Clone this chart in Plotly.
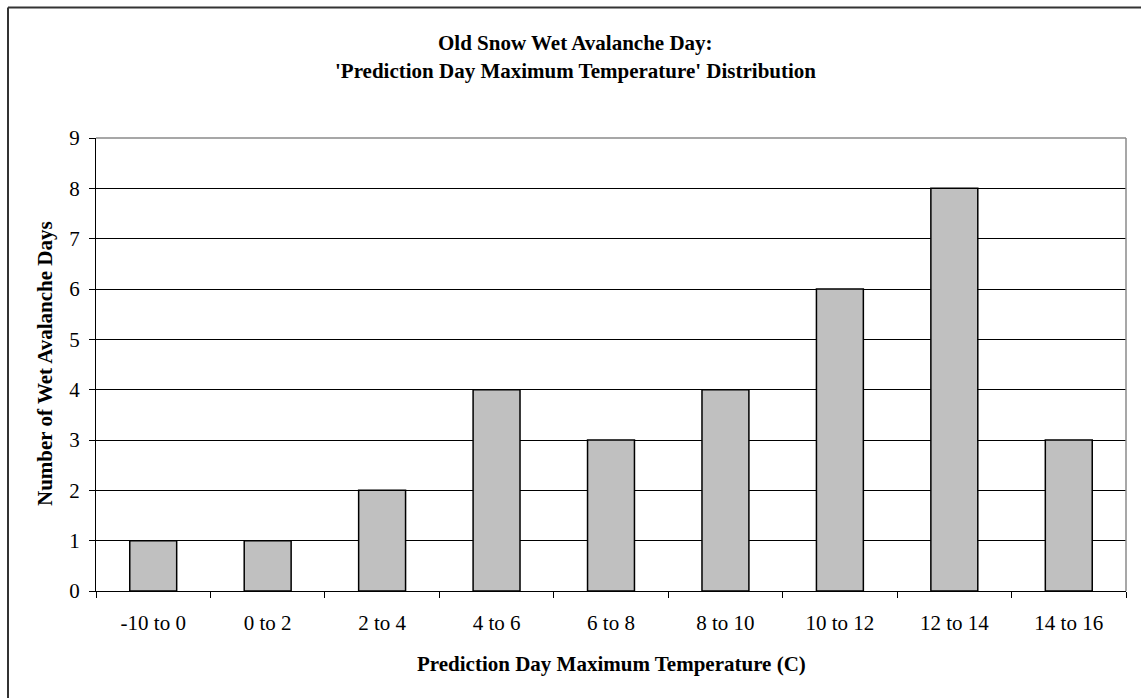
import plotly.graph_objects as go

categories = ["-10 to 0", "0 to 2", "2 to 4", "4 to 6", "6 to 8", "8 to 10", "10 to 12", "12 to 14", "14 to 16"]
counts = [1, 1, 2, 4, 3, 4, 6, 8, 3]
y_ticks = list(range(0, 10))

title_line1 = "Old Snow Wet Avalanche Day:"
title_line2 = "'Prediction Day Maximum Temperature' Distribution"
x_title = "Prediction Day Maximum Temperature (C)"
y_title = "Number of Wet Avalanche Days"

W, H = 1141, 698
L, R, T, B = 96, 15, 138, 107
PW, PH = W - L - R, H - T - B

def px(x):
    return (x - L) / PW

def py(y):
    return (H - B - y) / PH

FONT = "Liberation Serif, Times New Roman, serif"

fig = go.Figure(go.Bar(
    x=categories, y=counts,
    marker=dict(color="#C0C0C0", line=dict(color="black", width=1.5)),
))

fig.update_layout(
    width=W, height=H,
    margin=dict(l=L, r=R, t=T, b=B),
    paper_bgcolor="white", plot_bgcolor="white",
    bargap=0.59,
    showlegend=False,
    font=dict(family=FONT, size=21, color="black"),
    xaxis=dict(
        showline=True, linecolor="black", linewidth=1,
        ticks="outside", ticklen=6, tickcolor="black", tickson="boundaries",
        showgrid=False, ticklabelstandoff=13,
        tickfont=dict(family=FONT, size=21, color="black"),
    ),
    yaxis=dict(
        range=[0, 9], tickvals=y_ticks,
        showline=True, linecolor="black", linewidth=1,
        ticks="outside", ticklen=6, tickcolor="black",
        showgrid=True, gridcolor="black", gridwidth=1, zeroline=False,
        ticklabelstandoff=5,
        tickfont=dict(family=FONT, size=21, color="black"),
    ),
    annotations=[
        dict(text="<b>%s</b>" % title_line1, x=px(575), y=py(43), xref="paper", yref="paper",
             xanchor="center", yanchor="middle", showarrow=False, font=dict(family=FONT, size=21)),
        dict(text="<b>%s</b>" % title_line2, x=px(575), y=py(71), xref="paper", yref="paper",
             xanchor="center", yanchor="middle", showarrow=False, font=dict(family=FONT, size=21)),
        dict(text="<b>%s</b>" % x_title, x=px(611), y=py(664), xref="paper", yref="paper",
             xanchor="center", yanchor="middle", showarrow=False, font=dict(family=FONT, size=21)),
        dict(text="<b>%s</b>" % y_title, x=px(45), y=py(364), xref="paper", yref="paper",
             xanchor="center", yanchor="middle", textangle=-90, showarrow=False, font=dict(family=FONT, size=21)),
    ],
    shapes=[
        dict(type="line", xref="paper", yref="paper", x0=0, x1=1, y0=1, y1=1,
             line=dict(color="#8a8a8a", width=1.5), layer="above"),
        dict(type="line", xref="paper", yref="paper", x0=1, x1=1, y0=0, y1=1,
             line=dict(color="#8a8a8a", width=1.5), layer="above"),
        dict(type="line", xref="paper", yref="paper", x0=px(8), x1=px(1160), y0=py(7.5), y1=py(7.5),
             line=dict(color="#333333", width=2), layer="above"),
        dict(type="line", xref="paper", yref="paper", x0=px(8), x1=px(8), y0=py(7.5), y1=py(720),
             line=dict(color="#333333", width=2), layer="above"),
    ],
)

fig.write_html("out.html")
